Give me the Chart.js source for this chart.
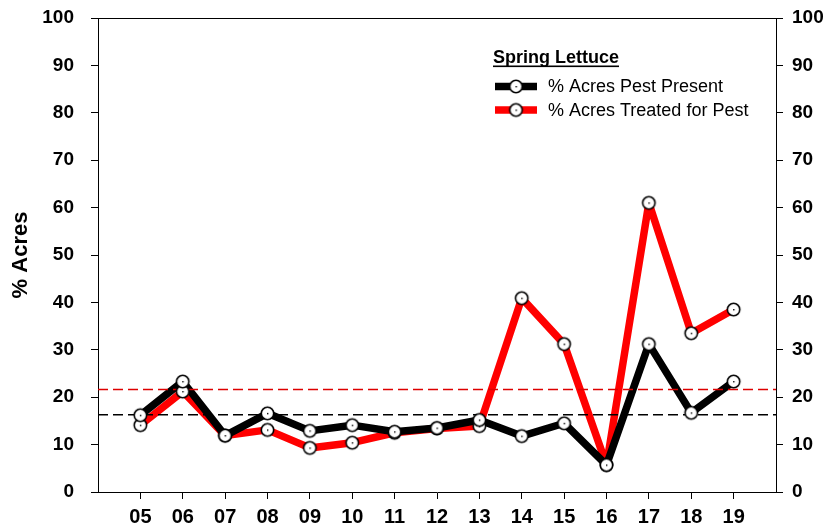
<!DOCTYPE html>
<html><head><meta charset="utf-8">
<script src="https://cdn.jsdelivr.net/npm/chart.js@4.4.1/dist/chart.umd.min.js"></script>
<style>html,body{margin:0;padding:0;background:#fff;}#wrap{width:826px;height:529px;}</style>
</head><body><div id="wrap"><canvas id="c" width="826" height="529"></canvas></div>
<script>
const years = ['05','06','07','08','09','10','11','12','13','14','15','16','17','18','19'];
const pestPresent = [16.2,23.3,11.9,16.6,12.9,14.1,12.7,13.5,15.2,11.8,14.5,5.7,31.2,16.7,23.3];
const treatedForPest = [14.1,21.2,11.9,13.1,9.3,10.4,12.5,13.4,13.9,40.9,31.2,5.7,61.0,33.5,38.5];
const meanPresent = 16.3;
const meanTreated = 21.6;
const yTicks = [0,10,20,30,40,50,60,70,80,90,100];
const legendTitle = 'Spring Lettuce';
const seriesNames = ['% Acres Pest Present','% Acres Treated for Pest'];
const yTitle = '% Acres';

const FONT = '"Liberation Sans", Arial, Helvetica, sans-serif';
const RED = '#ff0000';
const DASH_RED = '#dd0000';

function makeMarker(){
  const c=document.createElement('canvas');c.width=17;c.height=17;
  const g=c.getContext('2d');
  g.beginPath();g.arc(8.5,8.5,6.2,0,Math.PI*2);
  g.fillStyle='#fff';g.fill();g.lineWidth=1.6;g.strokeStyle='#000';g.stroke();
  g.fillStyle='#000';g.fillRect(8,8,1.4,1.4);
  return c;
}
const marker = makeMarker();

const toXY = arr => arr.map((v,i)=>({x:i,y:v}));
const meanLine = v => [{x:-1,y:v},{x:years.length,y:v}];

const legendPlugin = {
  id:'legendBox',
  afterDraw(chart){
    const ctx=chart.ctx, a=chart.chartArea;
    ctx.save();
    ctx.fillStyle='#000';
    ctx.font='bold 18px '+FONT;
    ctx.textAlign='left';ctx.textBaseline='alphabetic';
    const tx=a.left+395, ty=a.top+45;
    ctx.fillText(legendTitle,tx,ty);
    const w=ctx.measureText(legendTitle).width;
    ctx.fillRect(tx,ty+2.5,w,1.6);
    const cols=['#000',RED];
    const ys=[a.top+68.5,a.top+92];
    ctx.font='18px '+FONT;ctx.textBaseline='middle';
    for(let i=0;i<2;i++){
      ctx.strokeStyle=cols[i];ctx.lineWidth=7.5;ctx.lineCap='butt';
      ctx.beginPath();ctx.moveTo(a.left+397,ys[i]);ctx.lineTo(a.left+439,ys[i]);ctx.stroke();
      ctx.drawImage(marker,a.left+418-8.5,ys[i]-8.5);
      ctx.fillStyle='#000';
      ctx.fillText(seriesNames[i],a.left+450,ys[i]+1);
    }
    ctx.restore();
  }
};
const topBorder = {
  id:'topBorder',
  afterDraw(chart){
    const ctx=chart.ctx,a=chart.chartArea;
    ctx.save();ctx.strokeStyle='#000';ctx.lineWidth=1;
    ctx.beginPath();ctx.moveTo(a.left,a.top+0.5);ctx.lineTo(a.right,a.top+0.5);ctx.stroke();
    ctx.restore();
  }
};

const tickFont = {family:FONT,size:19,weight:'bold'};
const gridCfg = {display:true,drawOnChartArea:false,drawTicks:true,tickLength:7,color:'#000',lineWidth:1};
const fitV = w => s => { s.width = w; s.paddingTop = 0; s.paddingBottom = 0; };

new Chart(document.getElementById('c'),{
  type:'line',
  data:{datasets:[
    {data:toXY(pestPresent),showLine:false,pointStyle:marker,pointRadius:7,order:0},
    {data:toXY(treatedForPest),showLine:false,pointStyle:marker,pointRadius:7,order:0},
    {data:meanLine(meanPresent),borderColor:'#000',borderWidth:1.5,borderDash:[10,5],pointRadius:0,order:1},
    {data:meanLine(meanTreated),borderColor:DASH_RED,borderWidth:1.5,borderDash:[10,5],pointRadius:0,order:1},
    {label:seriesNames[0],data:toXY(pestPresent),borderColor:'#000',borderWidth:7.5,pointRadius:0,borderJoinStyle:'round',tension:0,order:2},
    {label:seriesNames[1],data:toXY(treatedForPest),borderColor:RED,borderWidth:7.5,pointRadius:0,borderJoinStyle:'round',tension:0,order:3}
  ]},
  options:{
    responsive:false,devicePixelRatio:1,animation:false,
    layout:{padding:{top:18,left:0,right:0,bottom:0}},
    plugins:{legend:{display:false},tooltip:{enabled:false}},
    scales:{
      x:{type:'linear',min:-1,max:years.length,
        afterBuildTicks:s=>{s.ticks=years.map((_,i)=>({value:i}));},
        afterFit:s=>{s.height=37;s.paddingLeft=0;s.paddingRight=0;},
        ticks:{callback:v=>years[v]??'',font:{family:FONT,size:20,weight:'bold'},color:'#000',padding:6,maxRotation:0,autoSkip:false},
        grid:gridCfg,border:{display:true,color:'#000',width:1}},
      y:{type:'linear',position:'left',min:0,max:100,
        afterBuildTicks:s=>{s.ticks=yTicks.map(v=>({value:v}));},
        afterFit:fitV(98),
        ticks:{font:tickFont,color:'#000',padding:17},
        title:{display:true,text:yTitle,font:{family:FONT,size:22,weight:'bold'},color:'#000',padding:{top:8,bottom:0}},
        grid:gridCfg,border:{display:true,color:'#000',width:1}},
      y2:{type:'linear',position:'right',min:0,max:100,
        afterBuildTicks:s=>{s.ticks=yTicks.map(v=>({value:v}));},
        afterFit:fitV(50),
        ticks:{font:tickFont,color:'#000',padding:9},
        grid:gridCfg,border:{display:true,color:'#000',width:1}}
    }
  },
  plugins:[legendPlugin,topBorder]
});
</script></body></html>
